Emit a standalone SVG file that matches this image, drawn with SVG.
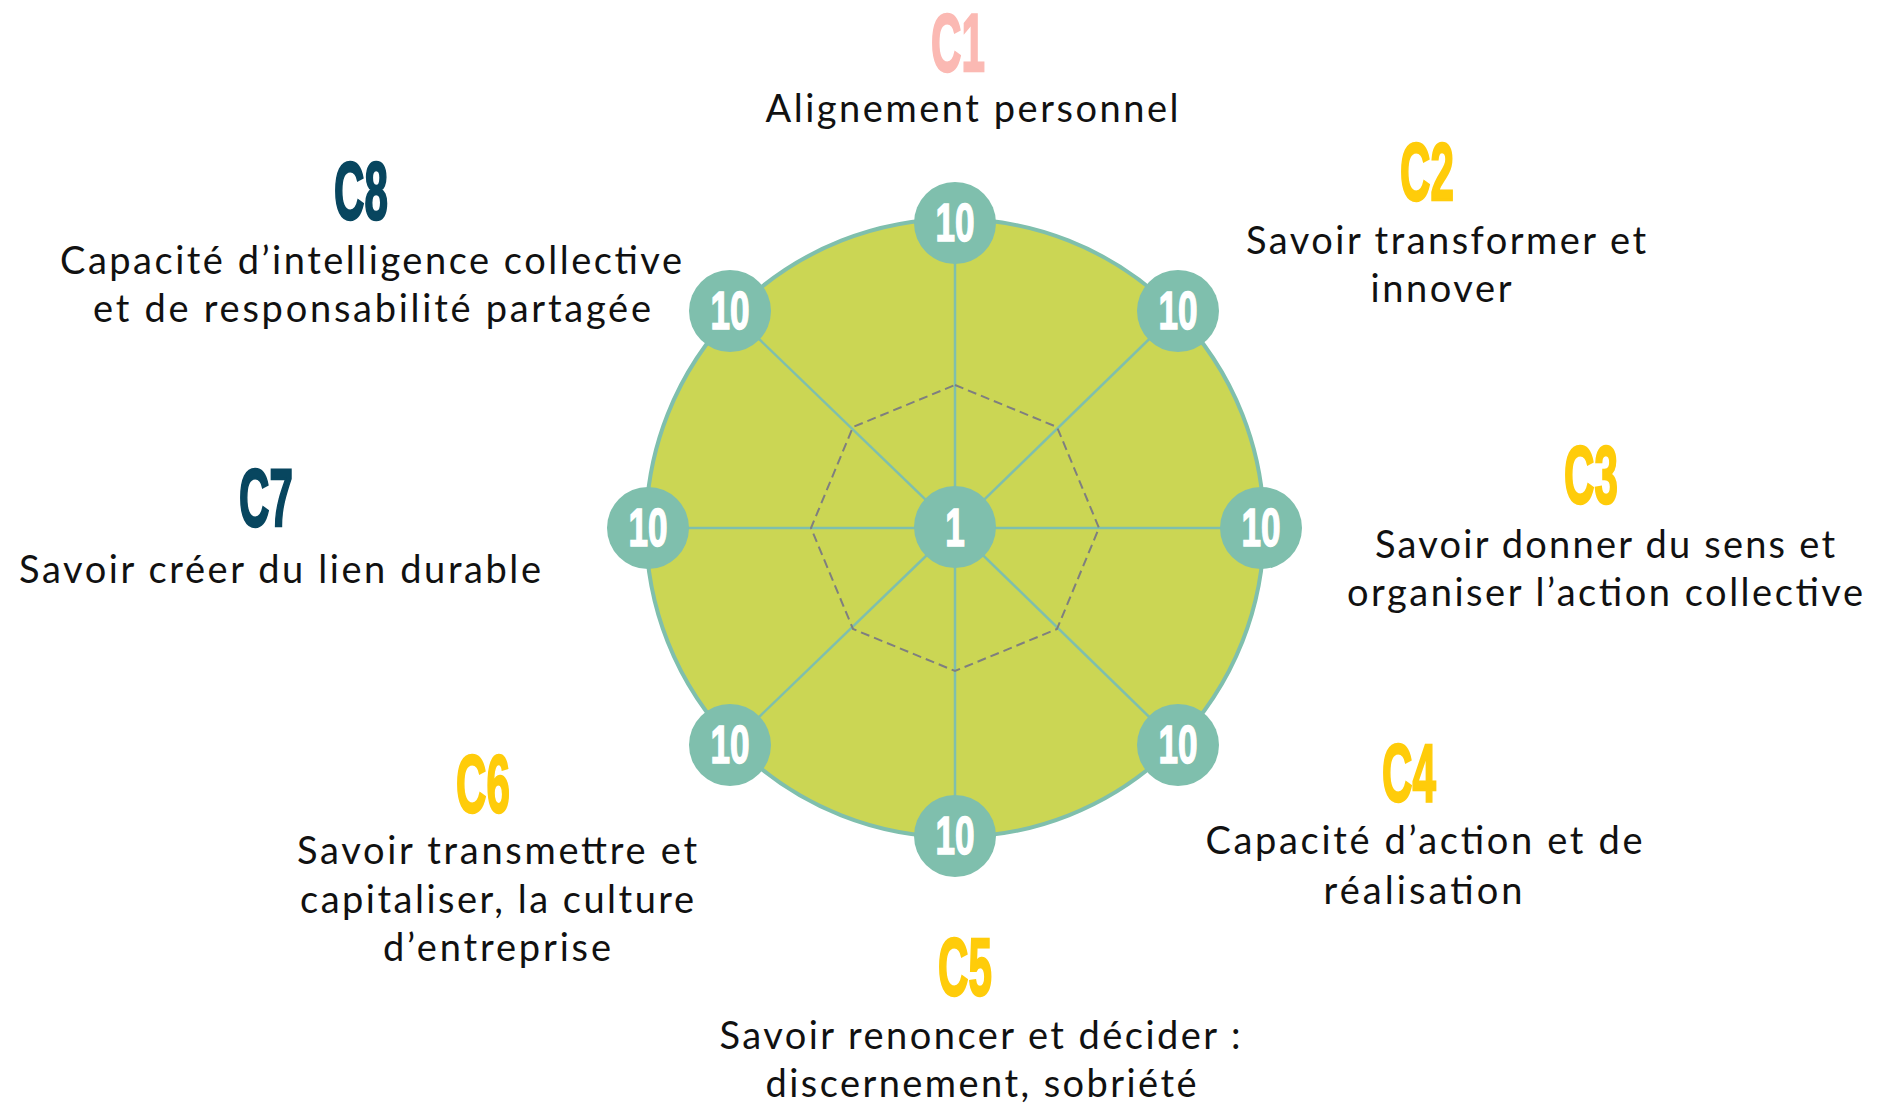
<svg xmlns="http://www.w3.org/2000/svg" width="1887" height="1114" viewBox="0 0 1887 1114">
<style>
.num{font-family:"Liberation Sans",Arial,sans-serif;font-weight:bold;font-size:54px;fill:#ffffff;stroke:#ffffff;stroke-width:1.5;text-anchor:middle}
.cl{font-family:"Liberation Sans",Arial,sans-serif;font-weight:bold;font-size:81px;stroke-width:2.5;text-anchor:middle}
.pink{fill:#FBB9B3;stroke:#FBB9B3}
.yel{fill:#FFCC0A;stroke:#FFCC0A}
.dark{fill:#08465F;stroke:#08465F}
.lbl{font-family:Lato,"Noto Sans",sans-serif;font-size:38px;fill:#111111;text-anchor:middle}
.node{fill:#7FBFAD}
.spoke{stroke:#7FBFAD;stroke-width:2.5;fill:none}
</style>
<rect width="1887" height="1114" fill="#ffffff"/>
<g id="chart">
<circle cx="955" cy="528" r="309" fill="#CBD654" stroke="#7FBFAD" stroke-width="4"/>
</g>
<g id="connectors">
<line class="spoke" x1="955" y1="528" x2="955" y2="223"/>
<line class="spoke" x1="955" y1="528" x2="1178" y2="311"/>
<line class="spoke" x1="955" y1="528" x2="1261" y2="528"/>
<line class="spoke" x1="955" y1="528" x2="1178" y2="745"/>
<line class="spoke" x1="955" y1="528" x2="955" y2="836"/>
<line class="spoke" x1="955" y1="528" x2="730" y2="745"/>
<line class="spoke" x1="955" y1="528" x2="648" y2="528"/>
<line class="spoke" x1="955" y1="528" x2="730" y2="311"/>
<polygon points="955,385 1057,427 1099,528 1057,629 955,671 853,629 811,528 853,427" fill="none" stroke="#7F7F7F" stroke-width="2" stroke-dasharray="9 5"/>
</g>
<g id="node-center"><circle class="node" cx="955" cy="527" r="41"/><text class="num" transform="translate(955,546) scale(0.65,1)">1</text></g>
<g id="node-c1"><circle class="node" cx="955" cy="223" r="41"/><text class="num" transform="translate(955,241) scale(0.65,1)">10</text></g>
<g id="node-c2"><circle class="node" cx="1178" cy="311" r="41"/><text class="num" transform="translate(1178,329) scale(0.65,1)">10</text></g>
<g id="node-c3"><circle class="node" cx="1261" cy="528" r="41"/><text class="num" transform="translate(1261,546) scale(0.65,1)">10</text></g>
<g id="node-c4"><circle class="node" cx="1178" cy="745" r="41"/><text class="num" transform="translate(1178,763) scale(0.65,1)">10</text></g>
<g id="node-c5"><circle class="node" cx="955" cy="836" r="41"/><text class="num" transform="translate(955,854) scale(0.65,1)">10</text></g>
<g id="node-c6"><circle class="node" cx="730" cy="745" r="41"/><text class="num" transform="translate(730,763) scale(0.65,1)">10</text></g>
<g id="node-c7"><circle class="node" cx="648" cy="528" r="41"/><text class="num" transform="translate(648,546) scale(0.65,1)">10</text></g>
<g id="node-c8"><circle class="node" cx="730" cy="311" r="41"/><text class="num" transform="translate(730,329) scale(0.65,1)">10</text></g>
<g id="label-c1">
<text class="cl pink" transform="translate(958,71) scale(0.52,1)">C1</text>
<text class="lbl" x="972" y="122" textLength="413" lengthAdjust="spacing">Alignement personnel</text>
</g>
<g id="label-c2">
<text class="cl yel" transform="translate(1427,200) scale(0.52,1)">C2</text>
<text class="lbl" x="1446" y="254" textLength="400" lengthAdjust="spacing">Savoir transformer et</text>
<text class="lbl" x="1441" y="302" textLength="141" lengthAdjust="spacing">innover</text>
</g>
<g id="label-c3">
<text class="cl yel" transform="translate(1591,503) scale(0.52,1)">C3</text>
<text class="lbl" x="1605" y="558" textLength="460" lengthAdjust="spacing">Savoir donner du sens et</text>
<text class="lbl" x="1605" y="606" textLength="516" lengthAdjust="spacing">organiser l’action collective</text>
</g>
<g id="label-c4">
<text class="cl yel" transform="translate(1409,801) scale(0.52,1)">C4</text>
<text class="lbl" x="1424" y="854" textLength="437" lengthAdjust="spacing">Capacité d’action et de</text>
<text class="lbl" x="1423" y="904" textLength="199" lengthAdjust="spacing">réalisation</text>
</g>
<g id="label-c5">
<text class="cl yel" transform="translate(965,995) scale(0.52,1)">C5</text>
<text class="lbl" x="980" y="1049" textLength="521" lengthAdjust="spacing">Savoir renoncer et décider :</text>
<text class="lbl" x="981" y="1097" textLength="431" lengthAdjust="spacing">discernement, sobriété</text>
</g>
<g id="label-c6">
<text class="cl yel" transform="translate(483,812) scale(0.52,1)">C6</text>
<text class="lbl" x="497" y="864" textLength="400" lengthAdjust="spacing">Savoir transmettre et</text>
<text class="lbl" x="497" y="913" textLength="394" lengthAdjust="spacing">capitaliser, la culture</text>
<text class="lbl" x="497" y="961" textLength="228" lengthAdjust="spacing">d’entreprise</text>
</g>
<g id="label-c7">
<text class="cl dark" transform="translate(266,526) scale(0.52,1)">C7</text>
<text class="lbl" x="280" y="583" textLength="522" lengthAdjust="spacing">Savoir créer du lien durable</text>
</g>
<g id="label-c8">
<text class="cl dark" transform="translate(361,219) scale(0.52,1)">C8</text>
<text class="lbl" x="371" y="274" textLength="622" lengthAdjust="spacing">Capacité d’intelligence collective</text>
<text class="lbl" x="372" y="322" textLength="558" lengthAdjust="spacing">et de responsabilité partagée</text>
</g>
</svg>
